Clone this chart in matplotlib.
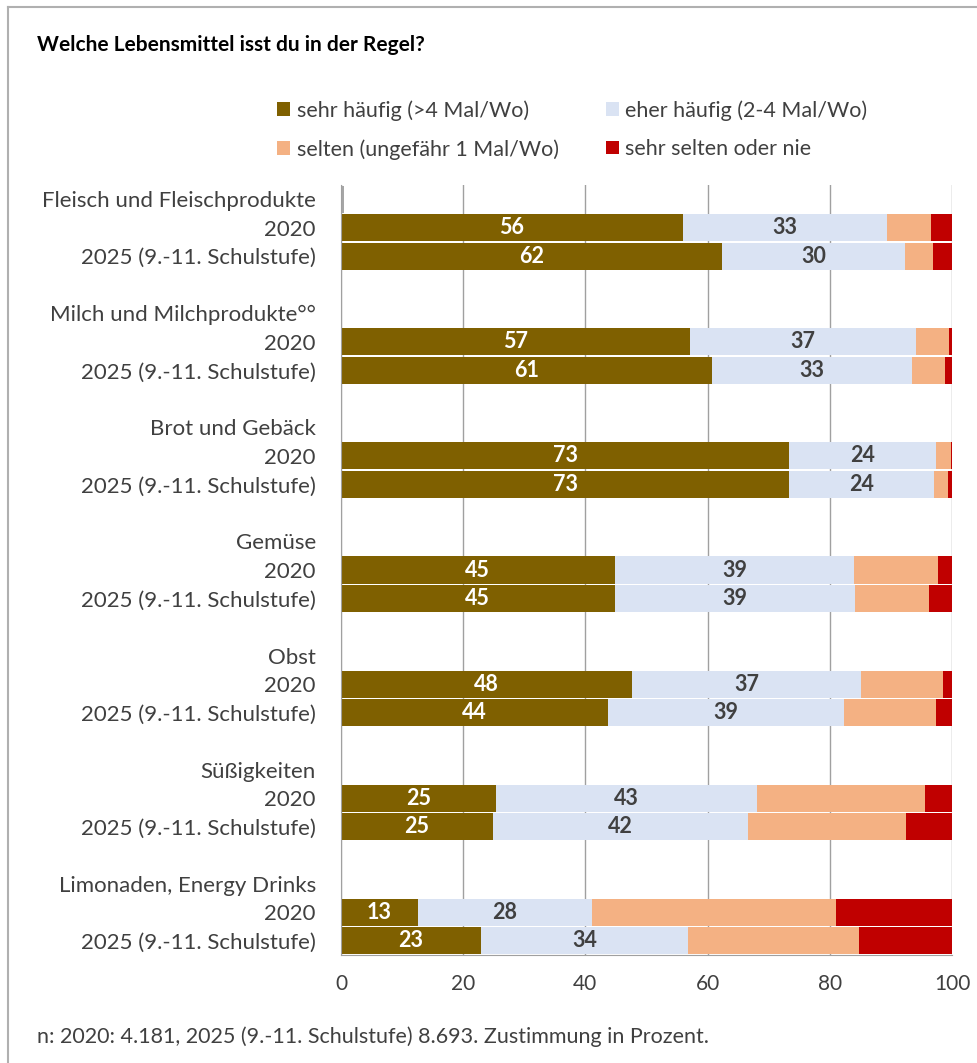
import numpy as np
import matplotlib
matplotlib.use("Agg")
from matplotlib import pyplot as plt
from matplotlib.lines import Line2D

plt.rcParams['font.family'] = ['Lato', 'DejaVu Sans']

categories = ['Fleisch und Fleischprodukte', 'Milch und Milchprodukte°°', 'Brot und Gebäck',
              'Gemüse', 'Obst', 'Süßigkeiten', 'Limonaden, Energy Drinks']
years = ['2020', '2025 (9.-11. Schulstufe)']
legend_labels = ['sehr häufig (>4 Mal/Wo)', 'eher häufig (2-4 Mal/Wo)',
                 'selten (ungefähr 1 Mal/Wo)', 'sehr selten oder nie']

# one row per bar: category x year (2020, 2025)
sehr_haeufig = [55.9, 62.4, 57.1, 60.8, 73.4, 73.4, 44.8, 44.8, 47.7, 43.7, 25.4, 24.8, 12.6, 22.9]
eher_haeufig = [33.4, 29.9, 37.0, 32.6, 23.9, 23.6, 39.2, 39.3, 37.4, 38.7, 42.7, 41.8, 28.4, 33.9]
selten       = [7.2, 4.6, 5.4, 5.4, 2.5, 2.3, 13.7, 12.2, 13.4, 14.9, 27.5, 25.8, 40.0, 27.9]
sehr_selten  = [3.5, 3.1, 0.5, 1.2, 0.2, 0.7, 2.3, 3.7, 1.5, 2.7, 4.4, 7.6, 19.0, 15.3]
header_bar = [0.5, 0, 0, 0, 0, 0, 0]  # small grey mark in the category header row

colors = ['#7F6000', '#DAE3F3', '#F4B183', '#C00000']
txt = '#404040'

fig = plt.figure(figsize=(9.78, 10.63), dpi=100)
ax = fig.add_axes([341/978, 108/1063, 611/978, 770/1063])

# y slots: header, 2020, 2025, blank per category
ypos, ylabels = [], []
header_pos = []
ticks = []
for i, c in enumerate(categories):
    header_pos.append(i*4)
    ypos += [i*4+1, i*4+2]
    ticks += [i*4, i*4+1, i*4+2]
    ylabels += [c] + years

ax.barh(header_pos, header_bar, height=0.95, color='#A6A6A6')

series = [sehr_haeufig, eher_haeufig, selten, sehr_selten]
left = np.zeros(len(ypos))
handles = []
for k, vals in enumerate(series):
    vals = np.array(vals)
    b = ax.barh(ypos, vals, left=left, height=0.95, color=colors[k], label=legend_labels[k])
    handles.append(b)
    if k < 2:
        for y, l, v in zip(ypos, left, vals):
            ax.text(l + v/2, y, f"{v:.0f}", ha='center', va='center', fontsize=15.5,
                    fontweight='bold', color='white' if k == 0 else txt)
    left += vals

ax.set_xlim(0, 100)
ax.set_ylim(26.5, -0.5)
ax.set_xticks([0, 20, 40, 60, 80, 100])
ax.set_yticks(ticks)
ax.set_yticklabels(ylabels, fontsize=16, color=txt)
ax.tick_params(axis='y', length=0, pad=18)
ax.tick_params(axis='x', length=0, pad=14, labelsize=15, labelcolor=txt)
ax.grid(axis='x', color='#A0A0A0', linewidth=1)
ax.set_axisbelow(True)
for s in ['top', 'right']:
    ax.spines[s].set_visible(False)
for s in ['left', 'bottom']:
    ax.spines[s].set_color('#A0A0A0')

fig.text(37/978, 1-45/1063, 'Welche Lebensmittel isst du in der Regel?', fontsize=15,
         fontweight='bold', color='black', va='center')
fig.legend([handles[0], handles[2], handles[1], handles[3]],
           [legend_labels[0], legend_labels[2], legend_labels[1], legend_labels[3]],
           ncol=2, loc='center left', bbox_to_anchor=(258/978, 1-130/1063), frameon=False,
           fontsize=15.5, labelcolor=txt, handlelength=0.6, handleheight=0.6,
           handletextpad=0.3, columnspacing=2.2, labelspacing=0.85)
fig.text(37/978, 1-1037/1063, 'n: 2020: 4.181, 2025 (9.-11. Schulstufe) 8.693. Zustimmung in Prozent.',
         fontsize=15.5, color=txt, va='center')

# outer frame
fig.add_artist(Line2D([8/978, 1], [1-7/1063, 1-7/1063], color='#B0B0B0', linewidth=1.5))
fig.add_artist(Line2D([8/978, 8/978], [0, 1-7/1063], color='#B0B0B0', linewidth=1.5))

fig.savefig('out.png', dpi=100)
